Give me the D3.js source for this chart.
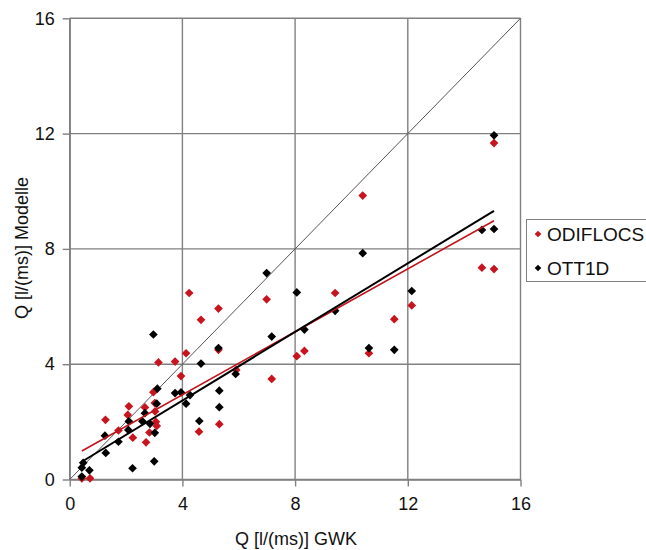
<!DOCTYPE html>
<html>
<head>
<meta charset="utf-8">
<script src="https://cdn.jsdelivr.net/npm/d3@7"></script>
<style>
  html, body { margin: 0; padding: 0; background: #fff; }
  svg { display: block; font-family: "Liberation Sans", Arial, sans-serif; }
</style>
</head>
<body>
<svg id="chart" width="646" height="550"></svg>
<script>
// ---- data ----
const seriesNames = ["ODIFLOCS", "OTT1D"];
const seriesColors = ["#c8141e", "#000000"];

const odiflocsX = [0.43, 0.72, 1.27, 2.10, 2.06, 1.73, 2.24, 2.67, 2.71, 2.97, 3.02, 3.06, 3.09, 2.83, 3.15, 3.74, 3.95, 4.13, 4.66, 5.28, 4.59, 5.31, 5.28, 5.91, 7.17, 4.24, 6.99, 8.06, 8.33, 9.42, 10.40, 10.62, 11.52, 12.14, 14.63, 15.06, 15.06, 3.03];
const odiflocsY = [0.04, 0.04, 2.07, 2.54, 2.24, 1.70, 1.45, 2.50, 1.29, 3.03, 2.65, 2.00, 1.86, 1.63, 4.06, 4.09, 3.59, 4.38, 5.54, 5.93, 1.66, 1.92, 4.50, 3.80, 3.49, 6.47, 6.25, 4.28, 4.46, 6.47, 9.85, 4.38, 5.56, 6.04, 7.35, 7.30, 11.67, 2.36];

const ott1dX = [0.43, 0.43, 0.48, 0.70, 1.25, 1.28, 1.73, 2.08, 2.10, 2.23, 2.58, 2.67, 2.85, 3.02, 3.00, 2.97, 3.09, 3.11, 3.74, 3.95, 4.27, 4.13, 4.66, 4.60, 5.28, 5.31, 5.31, 5.89, 7.17, 6.99, 8.06, 8.33, 9.42, 10.40, 10.62, 11.52, 12.14, 14.63, 15.06, 15.06];
const ott1dY = [0.10, 0.41, 0.58, 0.32, 1.52, 0.92, 1.31, 1.72, 2.02, 0.39, 2.02, 2.30, 1.93, 1.62, 0.63, 5.03, 2.63, 3.15, 3.00, 3.02, 2.93, 2.63, 4.02, 2.03, 4.56, 3.08, 2.51, 3.66, 4.96, 7.16, 6.49, 5.20, 5.85, 7.85, 4.56, 4.50, 6.54, 8.66, 8.69, 11.94];

// linear trendlines (slope, intercept, x-range)
const trendOdiflocs = { slope: 0.546, intercept: 0.755, x0: 0.43, x1: 15.06 };
const trendOtt1d = { slope: 0.595, intercept: 0.36, x0: 0.43, x1: 15.06 };

const xTicks = [0, 4, 8, 12, 16];
const yTicks = [0, 4, 8, 12, 16];
const xTitle = "Q [l/(ms)] GWK";
const yTitle = "Q [l/(ms)] Modelle";

// ---- drawing ----
const svg = d3.select("#chart");
const x = d3.scaleLinear().domain([0, 16]).range([69.7, 520.5]);
const y = d3.scaleLinear().domain([0, 16]).range([479.5, 18.3]);
const gridColor = "#808080";
const FONT = "18px";

// grid
const grid = svg.append("g");
grid.selectAll("line.v").data(xTicks).join("line")
  .attr("x1", d => x(d)).attr("x2", d => x(d))
  .attr("y1", y(0)).attr("y2", y(16))
  .attr("stroke", gridColor).attr("stroke-width", 1.4);
grid.selectAll("line.h").data(yTicks).join("line")
  .attr("y1", d => y(d)).attr("y2", d => y(d))
  .attr("x1", x(0)).attr("x2", x(16))
  .attr("stroke", gridColor).attr("stroke-width", 1.4);

// axes
const xAxis = svg.append("g").attr("transform", `translate(0,${y(0)})`)
  .call(d3.axisBottom(x).tickValues(xTicks).tickSize(7).tickPadding(11).tickSizeOuter(0));
const yAxis = svg.append("g").attr("transform", `translate(${x(0)},0)`)
  .call(d3.axisLeft(y).tickValues(yTicks).tickSize(7).tickPadding(8).tickSizeOuter(0));
[xAxis, yAxis].forEach(a => {
  a.select(".domain").attr("stroke", gridColor).attr("stroke-width", 1.4);
  a.selectAll(".tick line").attr("stroke", gridColor).attr("stroke-width", 1.4);
  a.selectAll(".tick text").attr("fill", "#111").style("font-size", FONT)
    .style("font-family", "'Liberation Sans', Arial, sans-serif");
});

// 1:1 line
svg.append("line")
  .attr("x1", x(0)).attr("y1", y(0)).attr("x2", x(16)).attr("y2", y(16))
  .attr("stroke", "#555").attr("stroke-width", 1);

// points: square rotated 45deg (Excel-style diamond)
const diamond = d3.symbol().type(d3.symbolSquare).size(38);
function drawPoints(xs, ys, color) {
  svg.append("g").selectAll("path").data(xs.map((v, i) => [v, ys[i]])).join("path")
    .attr("d", diamond)
    .attr("transform", d => `translate(${x(d[0])},${y(d[1])}) rotate(45)`)
    .attr("fill", color);
}
drawPoints(odiflocsX, odiflocsY, seriesColors[0]);
drawPoints(ott1dX, ott1dY, seriesColors[1]);

// trendlines
function drawTrend(t, color, w) {
  svg.append("line")
    .attr("x1", x(t.x0)).attr("y1", y(t.slope * t.x0 + t.intercept))
    .attr("x2", x(t.x1)).attr("y2", y(t.slope * t.x1 + t.intercept))
    .attr("stroke", color).attr("stroke-width", w);
}
drawTrend(trendOdiflocs, "#c0141c", 1.6);
drawTrend(trendOtt1d, "#000", 2);

// titles
svg.append("text").attr("x", 296).attr("y", 545).attr("text-anchor", "middle")
  .style("font-size", FONT).attr("fill", "#111").text(xTitle);
svg.append("text").attr("transform", "translate(28,248) rotate(-90)").attr("text-anchor", "middle")
  .style("font-size", FONT).attr("fill", "#111").text(yTitle);

// legend
const lg = svg.append("g");
lg.append("rect").attr("x", 526.5).attr("y", 219.5).attr("width", 130).attr("height", 62)
  .attr("fill", "#fff").attr("stroke", gridColor).attr("stroke-width", 1);
seriesNames.forEach((n, i) => {
  const cy = 234 + i * 34;
  lg.append("path").attr("d", d3.symbol().type(d3.symbolSquare).size(22))
    .attr("transform", `translate(538,${cy}) rotate(45)`).attr("fill", seriesColors[i]);
  lg.append("text").attr("x", 547).attr("y", cy + 6.5).style("font-size", "19px").attr("fill", "#111").text(n);
});
</script>
</body>
</html>
